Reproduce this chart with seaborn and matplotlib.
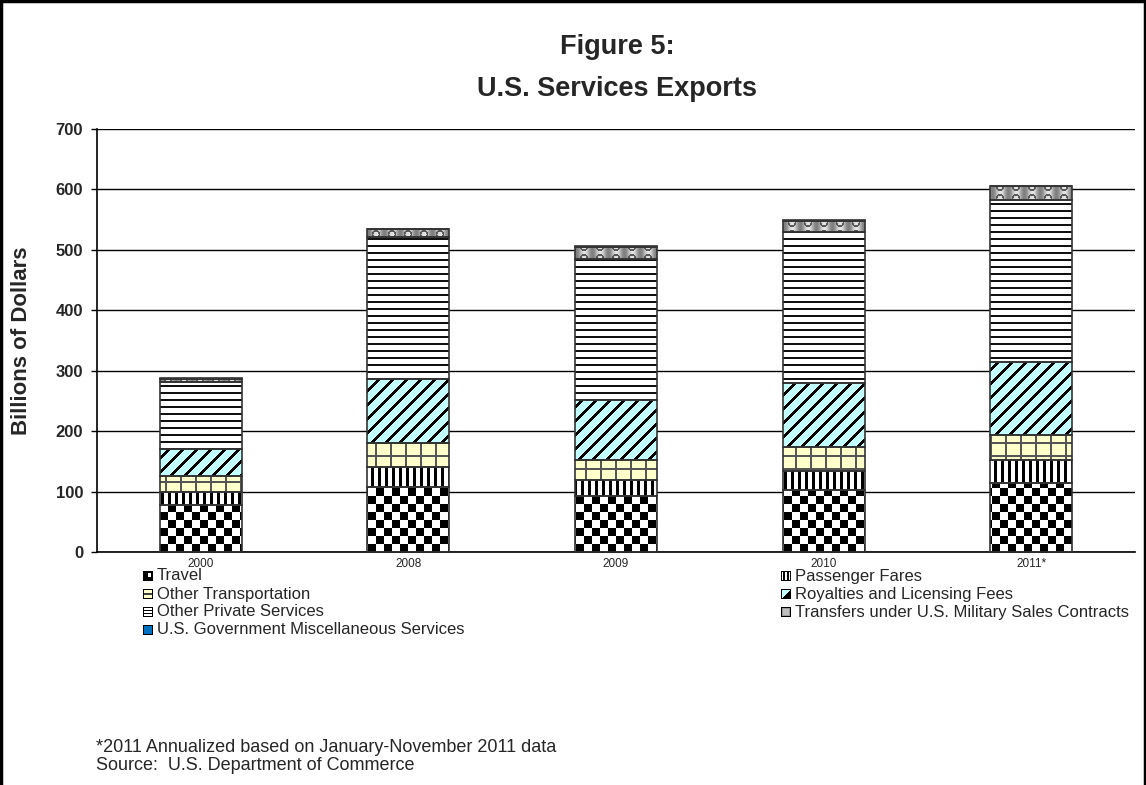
import numpy as np
import pandas as pd
import matplotlib
matplotlib.use("Agg")
import matplotlib.pyplot as plt
from matplotlib.lines import Line2D
import seaborn as sns

# ---- data (billions of dollars) ----
years = ["2000", "2008", "2009", "2010", "2011*"]
travel = [78, 107, 93, 103, 114]
passenger_fares = [22, 33, 26, 31, 38]
other_transportation = [25, 41, 33, 40, 42]
royalties = [45, 106, 99, 105, 121]
other_private = [112, 234, 234, 250, 268]
military_transfers = [5, 13, 20, 19, 22]
gov_misc = [1, 1, 1, 1, 1]

series_names = [
    "Travel",
    "Passenger Fares",
    "Other Transportation",
    "Royalties and Licensing Fees",
    "Other Private Services",
    "Transfers under U.S. Military Sales Contracts",
    "U.S. Government Miscellaneous Services",
]
series_values = [travel, passenger_fares, other_transportation, royalties,
                 other_private, military_transfers, gov_misc]
y_ticks = [0, 100, 200, 300, 400, 500, 600, 700]


# ---- pixel textures for each component ----
def rgb(h):
    h = h.lstrip("#")
    return np.array([int(h[i:i + 2], 16) / 255 for i in (0, 2, 4)])


def texture(kind, X, Y):
    H, W = X.shape
    img = np.ones((H, W, 3))
    if kind == 0:  # checkerboard
        m = ((X // 8 + Y // 8) % 2) == 0
        img[m] = 0.0
    elif kind == 1:  # vertical stripes
        m = (X % 7) < 3
        img[m] = 0.0
    elif kind == 2:  # yellow tiles
        img[:] = rgb("#FFFFCC")
        m = ((X % 15) < 2) | ((Y % 13) < 2)
        img[m] = rgb("#555555")
    elif kind == 3:  # cyan with diagonal stripes
        img[:] = rgb("#C2FFFF")
        m = ((X + Y) % 14) < 4
        img[m] = 0.0
    elif kind == 4:  # horizontal lines
        m = (Y % 7) < 2
        img[m] = rgb("#111111")
    elif kind == 5:  # grey beads
        t = (X % 16) / 16.0
        g = 0.5 + 0.4 * np.cos(np.pi * (t - 0.5)) ** 2
        img[:] = g[..., None]
        cx = (X % 16) - 7.5
        cy = (Y % 12) - 6
        ring = np.abs(np.sqrt(cx ** 2 + cy ** 2) - 3.5) < 1.0
        img[ring] = 0.35
    else:  # solid blue
        img[:] = rgb("#0070C0")
    return img


def legend_icon(kind, size=10):
    X, Y = np.meshgrid(np.arange(size), np.arange(size))
    icon = np.ones((size, size, 3))
    if kind == 0:
        icon[:] = 0.0
        icon[2:6, 5:8] = 1.0
    elif kind == 1:
        icon[:, [2, 3, 6, 7]] = 0.0
    elif kind == 2:
        icon[:] = rgb("#FFFFCC")
        icon[4:6, :] = 0.25
    elif kind == 3:
        icon[:] = rgb("#C2FFFF")
        icon[(X + Y) >= size] = 0.0
    elif kind == 4:
        icon[[3, 6], :] = 0.0
    elif kind == 5:
        icon[:] = 0.6
        icon[2:8, 2:8] = 0.75
    else:
        icon[:] = rgb("#0070C0")
    icon[0, :] = 0.0
    icon[-1, :] = 0.0
    icon[:, 0] = 0.0
    icon[:, -1] = 0.0
    return icon


# ---- figure ----
sns.set_style("white")
plt.rcParams["font.family"] = ["Liberation Sans", "DejaVu Sans"]

W_PX, H_PX, DPI = 1146, 785, 100
AX_L, AX_B, AX_W, AX_H = 97, 233, 1038, 423
fig = plt.figure(figsize=(W_PX / DPI, H_PX / DPI), dpi=DPI)
ax = fig.add_axes([AX_L / W_PX, AX_B / H_PX, AX_W / W_PX, AX_H / H_PX])

df = pd.DataFrame({"year": years})
bottom = np.zeros(len(years))
bar_groups = []
for name, vals in zip(series_names, series_values):
    df[name] = vals
    n_before = len(ax.patches)
    sns.barplot(data=df, x="year", y=name, bottom=bottom, width=0.395,
                color="white", edgecolor="#333333", linewidth=1.2,
                ax=ax, zorder=3, errorbar=None)
    group = ax.patches[n_before:]
    for p in group:
        p.set_facecolor("none")
    bar_groups.append(group)
    bottom = bottom + np.array(vals, dtype=float)

XLIM = (-0.5, len(years) - 0.5)
YLIM = (0, 700)
ax.set_xlim(*XLIM)
ax.set_ylim(*YLIM)
ax.set_yticks(y_ticks)
ax.set_yticklabels([str(v) for v in y_ticks], fontsize=12, fontweight="bold")
ax.tick_params(axis="y", length=4, width=1, direction="out", pad=6, left=True,
               color="black")
ax.tick_params(axis="x", length=0, pad=4, labelsize=8.5)
ax.set_xlabel("")
ax.set_ylabel("Billions of Dollars", fontsize=16, fontweight="bold")
ax.yaxis.set_label_coords(-0.0625, 0.5)

ax.grid(axis="y", color="black", linewidth=1, zorder=0)
ax.grid(axis="x", visible=False)
ax.set_axisbelow(True)
for side in ["top", "right"]:
    ax.spines[side].set_visible(False)
for side in ["left", "bottom"]:
    ax.spines[side].set_color("black")
    ax.spines[side].set_linewidth(1.2)

# one transparent layer over the plot area, textured inside each bar segment
layer = np.zeros((AX_H, AX_W, 4))
for kind, group in enumerate(bar_groups):
    for p in group:
        x0, y0 = p.get_x(), p.get_y()
        x1, y1 = x0 + p.get_width(), y0 + p.get_height()
        (px0, py0), (px1, py1) = ax.transData.transform([(x0, y0), (x1, y1)])
        c0 = int(round(px0)) - AX_L
        c1 = int(round(px1)) - AX_L
        r0 = (H_PX - int(round(py1))) - (H_PX - AX_B - AX_H)
        r1 = (H_PX - int(round(py0))) - (H_PX - AX_B - AX_H)
        c0, c1 = max(c0, 0), min(c1, AX_W)
        r0, r1 = max(r0, 0), min(r1, AX_H)
        if c1 <= c0 or r1 <= r0:
            continue
        X, Y = np.meshgrid(np.arange(c0, c1) + AX_L,
                           np.arange(r0, r1) + (H_PX - AX_B - AX_H))
        layer[r0:r1, c0:c1, :3] = texture(kind, X, Y)
        layer[r0:r1, c0:c1, 3] = 1.0
ax.imshow(layer, extent=(XLIM[0], XLIM[1], YLIM[0], YLIM[1]), origin="upper",
          interpolation="nearest", aspect="auto", zorder=2)
ax.set_xlim(*XLIM)
ax.set_ylim(*YLIM)

# title
fig.text(0.5385, 1 - 47 / H_PX, "Figure 5:", ha="center", va="center",
         fontsize=19.5, fontweight="bold")
fig.text(0.5385, 1 - 89 / H_PX, "U.S. Services Exports", ha="center",
         va="center", fontsize=19.5, fontweight="bold")

# legend: two columns, filled row by row
col_x = [148, 786]
row_y = [576, 594, 612, 630]
for i, name in enumerate(series_names):
    col = i % 2
    row = i // 2
    mx, my = col_x[col], row_y[row]
    icon = legend_icon(i)
    fig.figimage(icon, xo=mx - 5, yo=H_PX - my - 5, origin="upper", zorder=5)
    fig.text((mx + 9) / W_PX, 1 - my / H_PX, name, ha="left", va="center",
             fontsize=12)

# notes
fig.text(96 / W_PX, 1 - 747 / H_PX,
         "*2011 Annualized based on January-November 2011 data",
         ha="left", va="center", fontsize=13)
fig.text(96 / W_PX, 1 - 766 / H_PX,
         "Source:  U.S. Department of Commerce",
         ha="left", va="center", fontsize=13)

# outer frame
for xs, ys in [((0.001, 0.001), (0, 0.999)),
               ((0.001, 0.999), (0.999, 0.999)),
               ((0.999, 0.999), (0.999, 0))]:
    fig.add_artist(Line2D(xs, ys, transform=fig.transFigure, color="black",
                          linewidth=2.5))

fig.savefig("out.png", dpi=DPI)
